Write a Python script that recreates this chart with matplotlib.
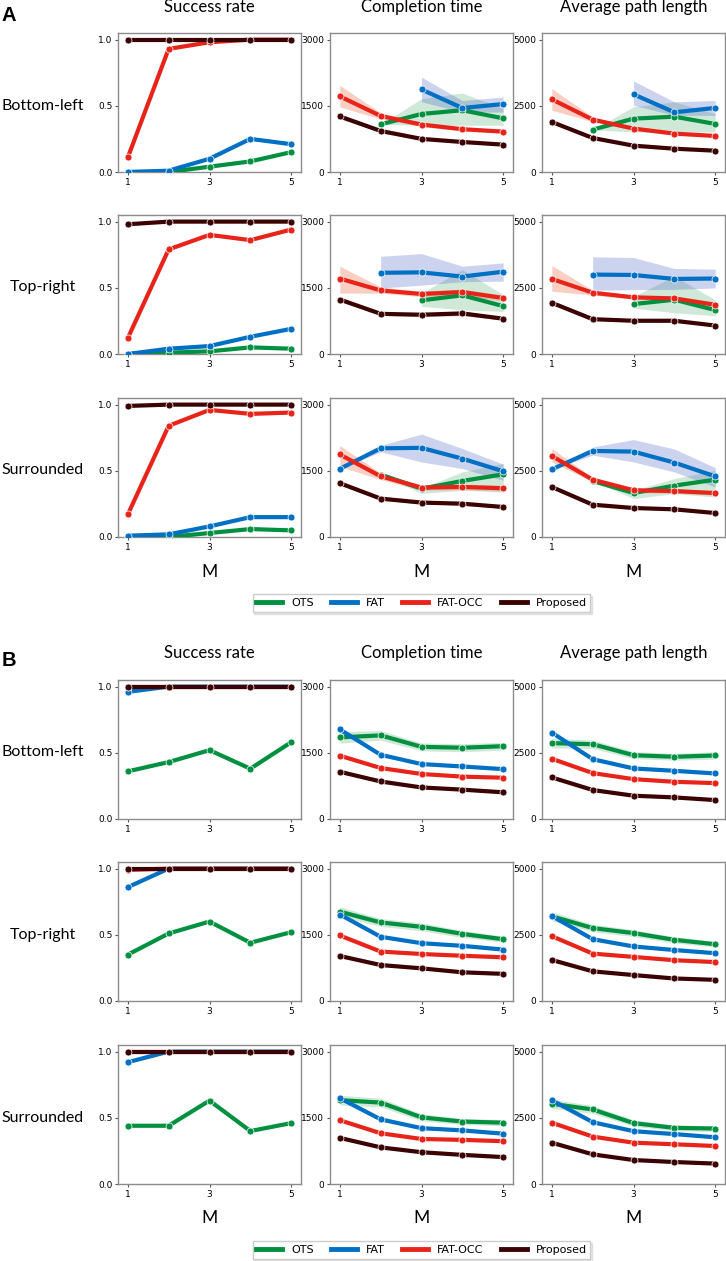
import numpy as np
import matplotlib
matplotlib.use("Agg")
from matplotlib import pyplot as plt
from matplotlib.lines import Line2D

nan = np.nan

M_VALUES = [1, 2, 3, 4, 5]
METHODS = ["OTS", "FAT", "FAT-OCC", "Proposed"]
SCENARIOS = ["Bottom-left", "Top-right", "Surrounded"]
METRICS = ["Success rate", "Completion time", "Average path length"]

# ---------------- panel A : success rate (OTS, FAT, FAT-OCC, Proposed)
A_BL_SR = [[0, 0, 0.04, 0.08, 0.15], [0, 0.01, 0.10, 0.25, 0.21],
           [0.11, 0.93, 0.98, 1.0, 1.0], [1, 1, 1, 1, 1]]
A_TR_SR = [[0, 0.01, 0.02, 0.05, 0.04], [0, 0.04, 0.06, 0.13, 0.19],
           [0.12, 0.79, 0.90, 0.86, 0.94], [0.98, 1, 1, 1, 1]]
A_SU_SR = [[0, 0, 0.03, 0.06, 0.05], [0.01, 0.02, 0.08, 0.15, 0.15],
           [0.17, 0.84, 0.96, 0.93, 0.94], [0.99, 1, 1, 1, 1]]

# ---------------- panel A : completion time, mean / lower / upper
A_BL_TIME = [[nan, 1080, 1315, 1400, 1215], [nan, nan, 1870, 1450, 1540],
             [1715, 1270, 1075, 970, 915], [1260, 930, 750, 680, 620]]
A_BL_TIME_LO = [[nan, 1080, 1060, 1060, 1060], [nan, nan, 1590, 1360, 1360],
                [1475, 1200, 1030, 930, 880], [1210, 900, 725, 655, 595]]
A_BL_TIME_HI = [[nan, 1080, 1660, 1790, 1440], [nan, nan, 2150, 1620, 1700],
                [1965, 1340, 1120, 1010, 950], [1310, 960, 775, 705, 645]]

A_TR_TIME = [[nan, nan, 1215, 1330, 1085], [nan, 1840, 1850, 1755, 1865],
             [1710, 1440, 1360, 1405, 1270], [1235, 910, 890, 920, 800]]
A_TR_TIME_LO = [[nan, nan, 1080, 1000, 965], [nan, 1495, 1560, 1640, 1650],
                [1380, 1380, 1300, 1330, 1200], [1190, 880, 850, 870, 770]]
A_TR_TIME_HI = [[nan, nan, 1380, 1910, 1345], [nan, 2215, 2275, 1990, 2065],
                [1990, 1520, 1420, 1470, 1330], [1280, 945, 925, 970, 830]]

A_SU_TIME = [[nan, 1415, 1095, 1270, 1420], [1545, 2010, 2020, 1775, 1490],
             [1870, 1375, 1120, 1135, 1105], [1220, 870, 780, 755, 680]]
A_SU_TIME_LO = [[nan, 1415, 985, 1060, 1020], [1545, 1930, 1700, 1550, 1285],
                [1600, 1300, 1060, 1070, 1040], [1180, 840, 750, 725, 650]]
A_SU_TIME_HI = [[nan, 1415, 1110, 1475, 1665], [1545, 2080, 2330, 2005, 1650],
                [2070, 1450, 1180, 1200, 1170], [1260, 900, 810, 785, 710]]

# ---------------- panel A : average path length, mean / lower / upper
A_BL_PATH = [[nan, 1600, 2015, 2090, 1815], [nan, nan, 2935, 2255, 2420],
             [2745, 1980, 1640, 1450, 1360], [1890, 1285, 995, 880, 805]]
A_BL_PATH_LO = [[nan, 1600, 1510, 1510, 1510], [nan, nan, 2520, 2140, 2140],
                [2330, 1900, 1580, 1400, 1320], [1840, 1250, 965, 855, 780]]
A_BL_PATH_HI = [[nan, 1600, 2460, 2650, 2200], [nan, nan, 3440, 2650, 2700],
                [3150, 2080, 1700, 1500, 1400], [1940, 1320, 1025, 905, 830]]

A_TR_PATH = [[nan, nan, 1885, 2050, 1660], [nan, 3000, 2985, 2835, 2850],
             [2835, 2315, 2140, 2100, 1860], [1935, 1315, 1255, 1255, 1075]]
A_TR_PATH_LO = [[nan, nan, 1735, 1555, 1445], [nan, 2405, 2430, 2440, 2495],
                [2370, 2230, 2060, 2010, 1780], [1890, 1280, 1220, 1215, 1040]]
A_TR_PATH_HI = [[nan, nan, 2175, 2935, 2050], [nan, 3670, 3645, 3230, 3205],
                [3340, 2410, 2220, 2190, 1950], [1980, 1350, 1290, 1295, 1110]]

A_SU_PATH = [[nan, 2115, 1660, 1940, 2165], [2555, 3250, 3225, 2810, 2290],
             [3060, 2165, 1765, 1735, 1660], [1890, 1220, 1095, 1045, 905]]
A_SU_PATH_LO = [[nan, 2115, 1450, 1640, 1510], [2555, 3090, 2835, 2455, 1890],
                [2835, 2080, 1680, 1650, 1580], [1850, 1190, 1065, 1015, 875]]
A_SU_PATH_HI = [[nan, 2115, 1765, 2205, 2520], [2555, 3400, 3680, 3325, 2620],
                [3340, 2250, 1850, 1820, 1740], [1930, 1250, 1125, 1075, 935]]

# ---------------- panel B : success rate
B_BL_SR = [[0.36, 0.43, 0.52, 0.38, 0.58], [0.96, 1, 1, 1, 1],
           [1, 1, 1, 1, 1], [1, 1, 1, 1, 1]]
B_TR_SR = [[0.35, 0.51, 0.60, 0.44, 0.52], [0.86, 1, 1, 1, 1],
           [0.99, 1, 1, 1, 1], [1, 1, 1, 1, 1]]
B_SU_SR = [[0.44, 0.44, 0.63, 0.40, 0.46], [0.92, 1, 1, 1, 1],
           [1, 1, 1, 1, 1], [1, 1, 1, 1, 1]]

# ---------------- panel B : completion time / path length, mean and band half-width
B_BL_TIME = [[1850, 1895, 1635, 1615, 1650], [2030, 1455, 1245, 1190, 1130],
             [1435, 1155, 1020, 960, 935], [1070, 850, 715, 665, 605]]
B_BL_TIME_ERR = [[130, 110, 90, 90, 90], [30, 30, 25, 25, 25],
                 [25, 25, 20, 20, 20], [20, 20, 20, 20, 20]]
B_TR_TIME = [[2025, 1780, 1680, 1520, 1400], [1960, 1455, 1310, 1250, 1165],
             [1485, 1120, 1065, 1025, 990], [1020, 815, 740, 650, 615]]
B_TR_TIME_ERR = [[110, 90, 90, 80, 70], [30, 30, 25, 25, 25],
                 [25, 25, 20, 20, 20], [20, 20, 20, 20, 20]]
B_SU_TIME = [[1900, 1845, 1510, 1415, 1390], [1945, 1465, 1265, 1215, 1140],
             [1445, 1150, 1020, 1000, 970], [1045, 830, 720, 660, 610]]
B_SU_TIME_ERR = [[110, 100, 80, 70, 70], [30, 30, 25, 25, 25],
                 [25, 25, 20, 20, 20], [20, 20, 20, 20, 20]]

B_BL_PATH = [[2865, 2825, 2410, 2350, 2400], [3265, 2260, 1910, 1820, 1720],
             [2275, 1735, 1505, 1405, 1355], [1570, 1095, 880, 815, 715]]
B_BL_PATH_ERR = [[180, 160, 130, 130, 140], [50, 45, 40, 40, 40],
                 [40, 35, 30, 30, 30], [30, 30, 30, 30, 30]]
B_TR_PATH = [[3200, 2755, 2565, 2310, 2145], [3210, 2335, 2060, 1925, 1805],
             [2450, 1790, 1665, 1540, 1470], [1550, 1120, 980, 850, 800]]
B_TR_PATH_ERR = [[170, 140, 130, 120, 110], [50, 45, 40, 40, 40],
                 [40, 35, 30, 30, 30], [30, 30, 30, 30, 30]]
B_SU_PATH = [[3030, 2815, 2300, 2120, 2095], [3165, 2335, 1995, 1885, 1765],
             [2315, 1790, 1560, 1500, 1435], [1560, 1120, 905, 830, 770]]
B_SU_PATH_ERR = [[170, 150, 120, 110, 110], [50, 45, 40, 40, 40],
                 [40, 35, 30, 30, 30], [30, 30, 30, 30, 30]]

LINE_COLORS = ["#009040", "#0070c4", "#e8241a", "#3a0202"]
BAND_COLORS = ["#2a9a50", "#4a62c8", "#ee6a48", "#6a1010"]
BAND_ALPHA = [0.22, 0.28, 0.32, 0.35]

TITLE_FONT = "Lato"
YLIMS = [(0, 1.05), (0, 3150), (0, 5250)]
YTICKS = [[0, 0.5, 1.0], [0, 1500, 3000], [0, 2500, 5000]]
YTICKLABELS = [["0.0", "0.5", "1.0"], ["0", "1500", "3000"], ["0", "2500", "5000"]]

W, H = 726, 1261
COL_LEFT = [118, 330, 542]
AX_W, AX_H = 183, 139


def px_axes(fig, left, top):
    return fig.add_axes([left / W, 1 - (top + AX_H) / H, AX_W / W, AX_H / H])


def draw(ax, col, means, lo=None, hi=None):
    x = np.array(M_VALUES)
    if lo is not None:
        for k in range(4):
            ax.fill_between(x, np.array(lo[k], float), np.array(hi[k], float),
                            color=BAND_COLORS[k], alpha=BAND_ALPHA[k], lw=0, zorder=1)
    for k in range(4):
        ax.plot(x, np.array(means[k], float), color=LINE_COLORS[k], lw=3,
                marker="o", ms=5, mec="white", mew=0.5, zorder=3 + k,
                solid_capstyle="round")
    ax.set_xlim(0.76, 5.24)
    ax.set_ylim(*YLIMS[col])
    ax.set_xticks([1, 3, 5])
    ax.set_xticklabels(["1", "3", "5"])
    ax.set_yticks(YTICKS[col])
    ax.set_yticklabels(YTICKLABELS[col])
    ax.tick_params(labelsize=6.5, length=2.5, width=0.8, color="#555555", pad=1.5)
    for s in ax.spines.values():
        s.set_color("#8c8c8c")
        s.set_linewidth(1.0)


def add_panel(fig, letter, row_tops, title_y, m_y, legend_y, data):
    fig.text(2 / W, 1 - 21 / H if letter == "A" else 1 - 666 / H, letter,
             fontsize=14.5, fontweight="bold", family="Liberation Sans")
    for c, name in enumerate(METRICS):
        cx = (COL_LEFT[c] + AX_W / 2) / W
        fig.text(cx, 1 - title_y / H, name, ha="center", va="center",
                 fontsize=12, family=TITLE_FONT)
        fig.text(cx, 1 - m_y / H, "M", ha="center", va="center",
                 fontsize=12.5, family=TITLE_FONT)
    for r, scen in enumerate(SCENARIOS):
        top = row_tops[r]
        fig.text(43 / W, 1 - (top + AX_H / 2 + 3) / H, scen, ha="center",
                 va="center", fontsize=11.5, family=TITLE_FONT)
        for c in range(3):
            ax = px_axes(fig, COL_LEFT[c], top)
            draw(ax, c, *data[r][c])
    handles = [Line2D([0], [0], color=LINE_COLORS[k], lw=3.5) for k in range(4)]
    cx = (COL_LEFT[0] + COL_LEFT[2] + AX_W) / 2 / W
    fig.legend(handles, METHODS, loc="center", bbox_to_anchor=(cx, 1 - legend_y / H),
               ncol=4, fontsize=8, frameon=True, fancybox=False, edgecolor="#cccccc",
               handlelength=2.3, columnspacing=1.6, handletextpad=0.8,
               borderpad=0.35, shadow={"alpha": 0.12, "ox": 1.2, "oy": -1.2})


def band(mean, err):
    return ([[m - e for m, e in zip(mr, er)] for mr, er in zip(mean, err)],
            [[m + e for m, e in zip(mr, er)] for mr, er in zip(mean, err)])


fig = plt.figure(figsize=(W / 100, H / 100), dpi=100)

data_a = [
    [(A_BL_SR,), (A_BL_TIME, A_BL_TIME_LO, A_BL_TIME_HI), (A_BL_PATH, A_BL_PATH_LO, A_BL_PATH_HI)],
    [(A_TR_SR,), (A_TR_TIME, A_TR_TIME_LO, A_TR_TIME_HI), (A_TR_PATH, A_TR_PATH_LO, A_TR_PATH_HI)],
    [(A_SU_SR,), (A_SU_TIME, A_SU_TIME_LO, A_SU_TIME_HI), (A_SU_PATH, A_SU_PATH_LO, A_SU_PATH_HI)],
]
data_b = [
    [(B_BL_SR,), (B_BL_TIME, *band(B_BL_TIME, B_BL_TIME_ERR)), (B_BL_PATH, *band(B_BL_PATH, B_BL_PATH_ERR))],
    [(B_TR_SR,), (B_TR_TIME, *band(B_TR_TIME, B_TR_TIME_ERR)), (B_TR_PATH, *band(B_TR_PATH, B_TR_PATH_ERR))],
    [(B_SU_SR,), (B_SU_TIME, *band(B_SU_TIME, B_SU_TIME_ERR)), (B_SU_PATH, *band(B_SU_PATH, B_SU_PATH_ERR))],
]

add_panel(fig, "A", [33, 215, 398], 7, 572, 603, data_a)
add_panel(fig, "B", [680, 862, 1045], 653, 1218, 1250, data_b)

fig.savefig("out.png", dpi=100)
